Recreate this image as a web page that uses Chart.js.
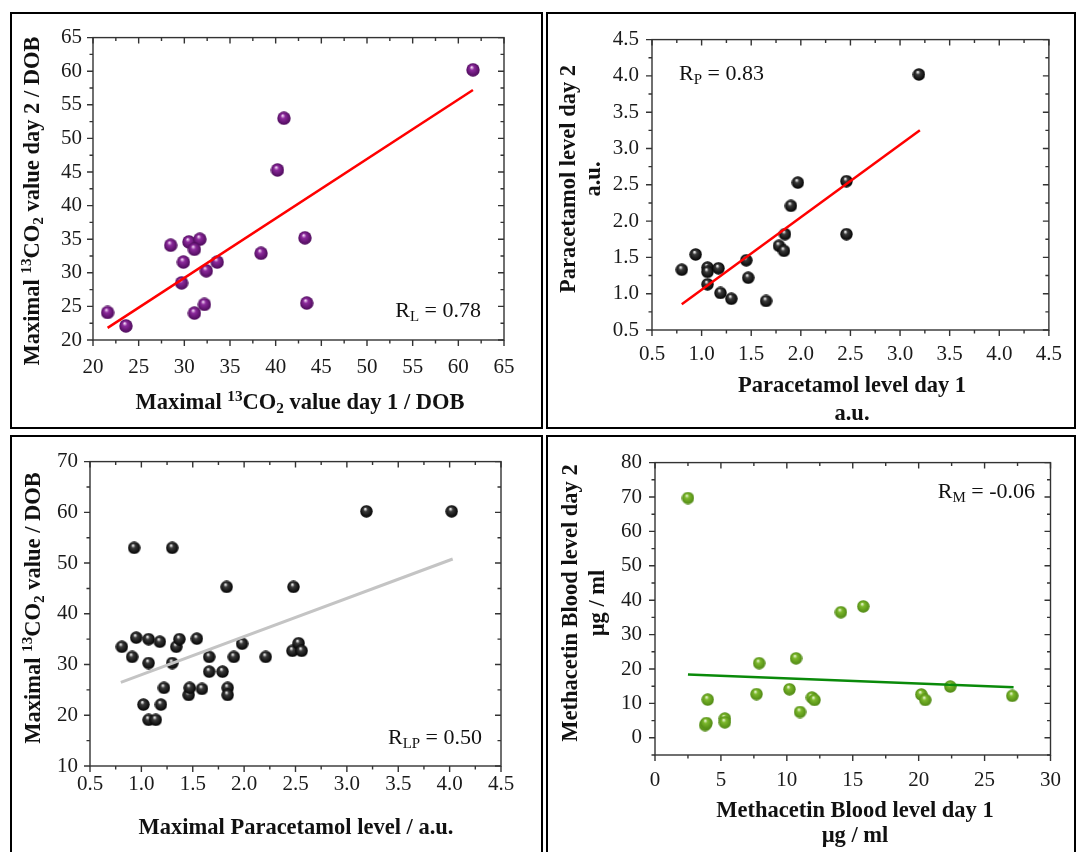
<!DOCTYPE html>
<html>
<head>
<meta charset="utf-8">
<script src="https://cdn.jsdelivr.net/npm/chart.js@4.4.1/dist/chart.umd.min.js"></script>
<style>
body { margin: 0; background: #fff; width: 1078px; height: 852px; overflow: hidden; position: relative; }
.panel { position: absolute; border: 2px solid #000; box-sizing: border-box; }
.panel canvas { display: block; }
</style>
</head>
<body>
<div class="panel" style="left:10px;top:12px;width:533px;height:417px"><canvas id="c1" width="529" height="413"></canvas></div>
<div class="panel" style="left:546px;top:12px;width:530px;height:417px"><canvas id="c2" width="526" height="413"></canvas></div>
<div class="panel" style="left:10px;top:435px;width:533px;height:422px"><canvas id="c3" width="529" height="418"></canvas></div>
<div class="panel" style="left:546px;top:435px;width:530px;height:422px"><canvas id="c4" width="526" height="418"></canvas></div>
<script>
// ---- panel 1: 13CO2 day 1 vs day 2 ----
const co2Day1 = [21.6, 23.6, 28.5, 30.5, 31.7, 31.1, 29.9, 29.7, 33.6, 32.4, 32.2, 31.1, 38.4, 40.2, 40.9, 43.2, 43.4, 61.6];
const co2Day2 = [24.1, 22.1, 34.1, 34.6, 35.0, 33.5, 31.6, 28.5, 31.6, 30.3, 25.3, 24.0, 32.9, 45.3, 53.0, 35.2, 25.5, 60.2];
const co2FitX = [21.6, 61.6];
const co2FitY = [21.8, 57.2];
const co2Ticks = [20, 25, 30, 35, 40, 45, 50, 55, 60, 65];

// ---- panel 2: paracetamol day 1 vs day 2 ----
const paraDay1 = [0.80, 0.94, 1.06, 1.06, 1.06, 1.17, 1.19, 1.30, 1.45, 1.47, 1.65, 1.78, 1.83, 1.84, 1.90, 1.97, 2.46, 2.46, 3.19];
const paraDay2 = [1.33, 1.54, 1.36, 1.30, 1.13, 1.35, 1.01, 0.93, 1.46, 1.22, 0.90, 1.66, 1.59, 1.82, 2.21, 2.53, 2.55, 1.82, 4.02];
const paraFitX = [0.80, 3.20];
const paraFitY = [0.855, 3.25];
const paraTicks = [0.5, 1.0, 1.5, 2.0, 2.5, 3.0, 3.5, 4.0, 4.5];

// ---- panel 3: max paracetamol vs max 13CO2 ----
const lpPara = [0.81, 0.91, 0.95, 0.93, 1.02, 1.07, 1.07, 1.07, 1.14, 1.18, 1.19, 1.22, 1.30, 1.30, 1.34, 1.37, 1.46, 1.47,
  1.54, 1.59, 1.66, 1.66, 1.79, 1.83, 1.84, 1.84, 1.90, 1.98, 2.21, 2.47, 2.48, 2.53, 2.56, 3.19, 4.02];
const lpCo2 = [33.5, 31.5, 35.3, 53.0, 22.1, 30.3, 35.0, 19.1, 19.1, 34.5, 22.1, 25.4, 53.0, 30.3, 33.5, 35.0, 24.0, 25.4,
  35.1, 25.2, 31.5, 28.6, 28.6, 45.3, 25.4, 24.0, 31.5, 34.1, 31.5, 32.7, 45.3, 34.2, 32.7, 60.2, 60.2];
const lpFitX = [0.80, 4.03];
const lpFitY = [26.5, 50.8];
const lpYTicks = [10, 20, 30, 40, 50, 60, 70];

// ---- panel 4: methacetin blood level ----
const methDay1 = [2.5, 4.0, 3.8, 3.9, 5.3, 5.3, 7.9, 7.7, 10.2, 10.7, 11.0, 11.9, 12.1, 14.1, 15.8, 20.2, 20.5, 22.4, 27.1];
const methDay2 = [69.7, 11.1, 3.7, 4.3, 5.6, 4.5, 21.7, 12.7, 14.1, 23.1, 7.5, 11.7, 11.0, 36.5, 38.2, 12.6, 11.0, 14.9, 12.2];
const methFitX = [2.5, 27.2];
const methFitY = [18.4, 14.7];
const methXTicks = [0, 5, 10, 15, 20, 25, 30];
const methYTicks = [0, 10, 20, 30, 40, 50, 60, 70, 80];

const FONT = '"Liberation Serif", "Times New Roman", serif';
const TITLE = 22.5;

// little shaded ball used as point marker
function sphere(size, light, mid, dark) {
  const c = document.createElement('canvas');
  c.width = size; c.height = size;
  const g = c.getContext('2d');
  const r = size / 2;
  const grad = g.createRadialGradient(r * 0.8, r * 0.6, 0.3, r, r, r);
  grad.addColorStop(0, light);
  grad.addColorStop(0.3, mid);
  grad.addColorStop(1, dark);
  g.fillStyle = grad;
  g.beginPath();
  g.arc(r, r, r - 0.3, 0, Math.PI * 2);
  g.fill();
  return c;
}

// text with ^{sup} and _{sub}
function drawRich(ctx, s, size, bold, align) {
  const segs = [];
  const re = /([\^_])\{([^}]*)\}|([^^_]+)/g;
  let m;
  while ((m = re.exec(s))) {
    if (m[3]) segs.push({ t: m[3], k: 0 });
    else segs.push({ t: m[2], k: m[1] === '^' ? 1 : -1 });
  }
  const font = k => (bold ? 'bold ' : '') + (k ? size * 0.68 : size) + 'px ' + FONT;
  let w = 0;
  segs.forEach(g => { ctx.font = font(g.k); g.w = ctx.measureText(g.t).width; w += g.w; });
  let x = align === 'center' ? -w / 2 : align === 'right' ? -w : 0;
  const base = size * 0.33;
  ctx.textBaseline = 'alphabetic';
  ctx.textAlign = 'left';
  segs.forEach(g => {
    ctx.font = font(g.k);
    const dy = g.k === 1 ? -size * 0.36 : g.k === -1 ? size * 0.18 : 0;
    ctx.fillText(g.t, x, base + dy);
    x += g.w;
  });
}

const panelText = {};

const textPlugin = {
  id: 'panelText',
  afterDraw(chart) {
    const ctx = chart.ctx;
    (panelText[chart.canvas.id] || []).forEach(it => {
      ctx.save();
      ctx.fillStyle = '#111';
      ctx.translate(it.x, it.y);
      if (it.rot) ctx.rotate(-Math.PI / 2);
      drawRich(ctx, it.text, it.size, it.bold, it.align || 'center');
      ctx.restore();
    });
  }
};

// box frame with major/minor ticks on all four sides
const framePlugin = {
  id: 'frame',
  beforeDatasetsDraw(chart) {
    const { ctx, chartArea: a } = chart;
    ctx.save();
    ctx.strokeStyle = '#333';
    ctx.lineWidth = 1.4;
    ctx.strokeRect(a.left, a.top, a.right - a.left, a.bottom - a.top);
    ctx.beginPath();
    ['x', 'y'].forEach(id => {
      const sc = chart.scales[id];
      const step = sc.options.minorStep;
      const majors = sc.ticks.map(t => t.value);
      const n = Math.round((sc.max - sc.min) / step);
      for (let i = 0; i <= n; i++) {
        const v = sc.min + i * step;
        const len = majors.some(t => Math.abs(t - v) < 1e-6) ? 6 : 3.5;
        const p = sc.getPixelForValue(v);
        if (id === 'x') {
          ctx.moveTo(p, a.bottom); ctx.lineTo(p, a.bottom + len);
          ctx.moveTo(p, a.top); ctx.lineTo(p, a.top + len);
        } else {
          ctx.moveTo(a.left, p); ctx.lineTo(a.left - len, p);
          ctx.moveTo(a.right, p); ctx.lineTo(a.right - len, p);
        }
      }
    });
    ctx.stroke();
    ctx.restore();
  }
};

function axis(min, max, ticks, digits, minorStep, pad, fit) {
  return {
    type: 'linear',
    min: min,
    max: max,
    minorStep: minorStep,
    grid: { display: false, drawTicks: false },
    border: { display: false },
    afterBuildTicks: sc => { sc.ticks = ticks.map(v => ({ value: v })); },
    afterFit: fit,
    ticks: {
      autoSkip: false,
      padding: pad,
      color: '#1a1a1a',
      font: { family: FONT, size: 21 },
      callback: v => v.toFixed(digits)
    }
  };
}

function makeChart(id, p) {
  const cv = document.getElementById(id);
  const W = cv.width, H = cv.height;
  const pts = p.xs.map((x, i) => ({ x: x, y: p.ys[i] }));
  const fit = p.fitX.map((x, i) => ({ x: x, y: p.fitY[i] }));
  new Chart(cv, {
    type: 'scatter',
    data: {
      datasets: [
        { type: 'line', data: fit, borderColor: p.lineColor, borderWidth: p.lineWidth, pointRadius: 0, fill: false },
        { data: pts, pointStyle: p.marker, pointRadius: 6 }
      ]
    },
    options: {
      responsive: false,
      animation: false,
      events: [],
      layout: { padding: { left: 0, top: p.area[1], right: W - p.area[2], bottom: 0 } },
      plugins: { legend: { display: false }, tooltip: { enabled: false } },
      scales: {
        x: axis(p.x[0], p.x[1], p.x[2], p.x[3], p.x[4], p.x[5], sc => { sc.height = H - p.area[3]; }),
        y: axis(p.y[0], p.y[1], p.y[2], p.y[3], p.y[4], p.y[5], sc => { sc.width = p.area[0]; })
      }
    },
    plugins: [framePlugin, textPlugin]
  });
}

const purple = sphere(14, '#f6dcf8', '#8c2a9c', '#4a0858');
const black = sphere(13, '#ffffff', '#3a3a3a', '#000000');
const green = sphere(13, '#eef8d8', '#7cb82c', '#4d8612');

panelText.c1 = [
  { text: 'Maximal ^{13}CO_{2} value day 1 / DOB', x: 288, y: 388, size: TITLE, bold: true },
  { text: 'Maximal ^{13}CO_{2} value day 2 / DOB', x: 20, y: 187, size: TITLE, bold: true, rot: true },
  { text: 'R_{L} = 0.78', x: 469, y: 296, size: 22, align: 'right' }
];
panelText.c2 = [
  { text: 'Paracetamol level day 1', x: 304, y: 371, size: TITLE, bold: true },
  { text: 'a.u.', x: 304, y: 399, size: TITLE, bold: true },
  { text: 'Paracetamol level day 2', x: 20, y: 165, size: TITLE, bold: true, rot: true },
  { text: 'a.u.', x: 45, y: 165, size: TITLE, bold: true, rot: true },
  { text: 'R_{P} = 0.83', x: 131, y: 59, size: 22, align: 'left' }
];
panelText.c3 = [
  { text: 'Maximal Paracetamol level / a.u.', x: 284, y: 390, size: TITLE, bold: true },
  { text: 'Maximal ^{13}CO_{2} value / DOB', x: 21, y: 171, size: TITLE, bold: true, rot: true },
  { text: 'R_{LP} = 0.50', x: 470, y: 300, size: 22, align: 'right' }
];
panelText.c4 = [
  { text: 'Methacetin Blood level day 1', x: 307, y: 373, size: TITLE, bold: true },
  { text: 'µg / ml', x: 307, y: 398, size: TITLE, bold: true },
  { text: 'Methacetin Blood level day 2', x: 22, y: 166, size: TITLE, bold: true, rot: true },
  { text: 'µg / ml', x: 49, y: 166, size: TITLE, bold: true, rot: true },
  { text: 'R_{M} = -0.06', x: 487, y: 54, size: 22, align: 'right' }
];

makeChart('c1', {
  xs: co2Day1, ys: co2Day2, fitX: co2FitX, fitY: co2FitY,
  lineColor: '#ff0000', lineWidth: 2.5, marker: purple,
  area: [81, 15, 492, 326],
  x: [20, 65, co2Ticks, 0, 2.5, 15],
  y: [20, 65, co2Ticks, 0, 2.5, 11]
});
makeChart('c2', {
  xs: paraDay1, ys: paraDay2, fitX: paraFitX, fitY: paraFitY,
  lineColor: '#ff0000', lineWidth: 2.5, marker: black,
  area: [104, 15, 503, 316],
  x: [0.5, 4.5, paraTicks, 1, 0.25, 12],
  y: [0.5, 4.5, paraTicks, 1, 0.25, 13]
});
makeChart('c3', {
  xs: lpPara, ys: lpCo2, fitX: lpFitX, fitY: lpFitY,
  lineColor: '#c4c4c4', lineWidth: 3, marker: black,
  area: [78, 18, 489, 329],
  x: [0.5, 4.5, paraTicks, 1, 0.25, 6],
  y: [10, 70, lpYTicks, 0, 5, 12]
});
makeChart('c4', {
  xs: methDay1, ys: methDay2, fitX: methFitX, fitY: methFitY,
  lineColor: '#0a8a0a', lineWidth: 2.5, marker: green,
  area: [107, 16, 508, 318],
  x: [0, 30, methXTicks, 0, 2.5, 13],
  y: [-5, 80, methYTicks, 0, 5, 13]
});
</script>
</body>
</html>
